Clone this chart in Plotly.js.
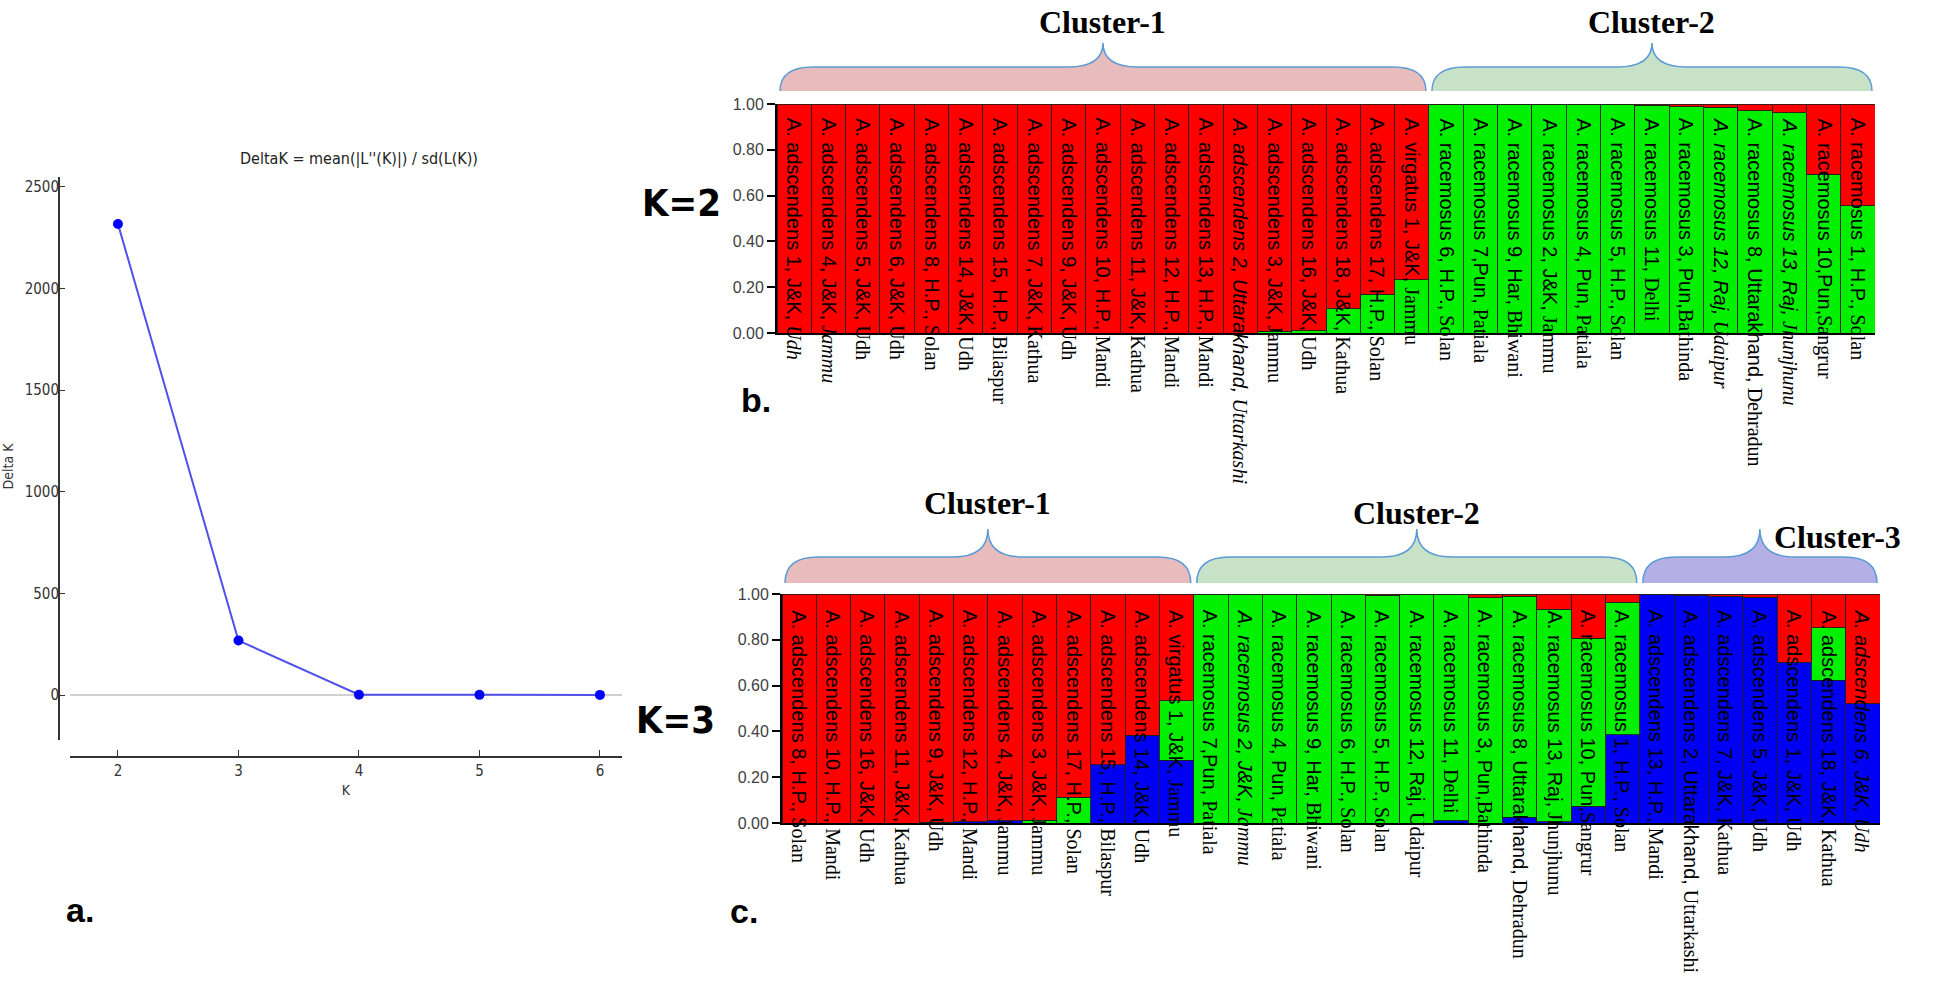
<!DOCTYPE html>
<html><head><meta charset="utf-8">
<script src="https://cdn.plot.ly/plotly-3.0.1.min.js"></script>
<style>html,body{margin:0;padding:0;background:#fff;}#chart{width:1946px;height:997px;}</style>
</head><body><div id="chart"></div>
<script>
// ---------- Panel a: Evanno DeltaK ----------
const kValues = [2, 3, 4, 5, 6];
const deltaK = [2318, 268, 1.5, 0.8, 0.6];
const deltaKTicks = [0, 500, 1000, 1500, 2000, 2500];

// ---------- Panel b: K=2 ----------
const labelsB = [
  'A. adscendens 1, J&K, Udh', 'A. adscendens 4, J&K, Jammu', 'A. adscendens 5, J&K, Udh',
  'A. adscendens 6, J&K, Udh', 'A. adscendens 8, H.P., Solan', 'A. adscendens 14, J&K, Udh',
  'A. adscendens 15, H.P., Bilaspur', 'A. adscendens 7, J&K, Kathua', 'A. adscendens 9, J&K, Udh',
  'A. adscendens 10, H.P., Mandi', 'A. adscendens 11, J&K, Kathua', 'A. adscendens 12, H.P., Mandi',
  'A. adscendens 13, H.P., Mandi', 'A. adscendens 2, Uttarakhand, Uttarkashi', 'A. adscendens 3, J&K, Jammu',
  'A. adscendens 16, J&K, Udh', 'A. adscendens 18, J&K, Kathua', 'A. adscendens 17, H.P., Solan',
  'A. virgatus 1, J&K, Jammu', 'A. racemosus 6, H.P., Solan', 'A. racemosus 7,Pun, Patiala',
  'A. racemosus 9, Har, Bhiwani', 'A. racemosus 2, J&K, Jammu', 'A. racemosus 4, Pun, Patiala',
  'A. racemosus 5, H.P., Solan', 'A. racemosus 11, Delhi', 'A. racemosus 3, Pun,Bathinda',
  'A. racemosus 12, Raj, Udaipur', 'A. racemosus 8, Uttarakhand, Dehradun', 'A. racemosus 13, Raj, Jhunjhunu',
  'A. racemosus 10,Pun,Sangrur', 'A. racemosus 1, H.P., Solan'
];
const greenB = [0, 0, 0, 0, 0, 0, 0, 0, 0, 0, 0, 0, 0, 0, 0.008, 0.01, 0.106, 0.17, 0.233,
  1, 1, 1, 1, 1, 1, 0.995, 0.988, 0.985, 0.97, 0.962, 0.694, 0.555];
const redB = [1, 1, 1, 1, 1, 1, 1, 1, 1, 1, 1, 1, 1, 1, 0.992, 0.99, 0.894, 0.83, 0.767,
  0, 0, 0, 0, 0, 0, 0.005, 0.012, 0.015, 0.03, 0.038, 0.306, 0.445];
const clusterNamesB = ['Cluster-1', 'Cluster-2'];
const clusterSizesB = [19, 13];

// ---------- Panel c: K=3 ----------
const labelsC = [
  'A. adscendens 8, H.P., Solan', 'A. adscendens 10, H.P., Mandi', 'A. adscendens 16, J&K, Udh',
  'A. adscendens 11, J&K, Kathua', 'A. adscendens 9, J&K, Udh', 'A. adscendens 12, H.P., Mandi',
  'A. adscendens 4, J&K, Jammu', 'A. adscendens 3, J&K, Jammu', 'A. adscendens 17, H.P., Solan',
  'A. adscendens 15, H.P., Bilaspur', 'A. adscendens 14, J&K, Udh', 'A. virgatus 1, J&K, Jammu',
  'A. racemosus 7,Pun, Patiala', 'A. racemosus 2, J&K, Jammu', 'A. racemosus 4, Pun, Patiala',
  'A. racemosus 9, Har, Bhiwani', 'A. racemosus 6, H.P., Solan', 'A. racemosus 5, H.P., Solan',
  'A. racemosus 12, Raj, Udaipur', 'A. racemosus 11, Delhi', 'A. racemosus 3, Pun,Bathinda',
  'A. racemosus 8, Uttarakhand, Dehradun', 'A. racemosus 13, Raj, Jhunjhunu', 'A. racemosus 10, Pun,Sangrur',
  'A. racemosus 1, H.P., Solan', 'A. adscendens 13, H.P., Mandi', 'A. adscendens 2, Uttarakhand, Uttarkashi',
  'A. adscendens 7, J&K, Kathua', 'A. adscendens 5, J&K, Udh', 'A. adscendens 1, J&K, Udh',
  'A. adscendens 18, J&K, Kathua', 'A. adscendens 6, J&K, Udh'
];
const blueC = [0, 0, 0, 0, 0.003, 0.005, 0.01, 0, 0, 0.254, 0.384, 0.275,
  0, 0, 0, 0, 0, 0, 0, 0.01, 0, 0.025, 0.005, 0.073, 0.386,
  1, 0.995, 0.99, 0.985, 0.702, 0.623, 0.521];
const greenC = [0, 0, 0, 0, 0, 0, 0, 0.012, 0.113, 0, 0, 0.258,
  1, 1, 1, 1, 1, 0.995, 1, 0.99, 0.983, 0.965, 0.929, 0.733, 0.578,
  0, 0, 0, 0, 0, 0.229, 0];
const redC = [1, 1, 1, 1, 0.997, 0.995, 0.99, 0.988, 0.887, 0.746, 0.616, 0.467,
  0, 0, 0, 0, 0, 0.005, 0, 0, 0.017, 0.01, 0.066, 0.194, 0.036,
  0, 0.005, 0.01, 0.015, 0.298, 0.148, 0.479];
const clusterNamesC = ['Cluster-1', 'Cluster-2', 'Cluster-3'];
const clusterSizesC = [12, 13, 7];

const qTicks = [0, 0.2, 0.4, 0.6, 0.8, 1.0];
const italicIdxB = [13, 27, 29];
const italicPlaceIdxB = [0, 1];
const italicIdxC = [13, 31];

// ---------- geometry helpers (pixels -> paper) ----------
const W = 1946, H = 997;
const PX = x => x / W;
const PY = y => 1 - y / H;
const A = {x0: 70, x1: 622, y0: 177, y1: 756};
const B = {x0: 777, x1: 1875, y0: 104, y1: 333};
const C = {x0: 782, x1: 1880, y0: 594, y1: 823};

const RED = 'rgb(255,0,0)', GREEN = 'rgb(0,240,0)', BLUE = 'rgb(0,0,245)';
const SANS = 'Liberation Sans, Arial, sans-serif';
const SERIF = 'Liberation Serif, Times New Roman, serif';
const barLine = {color: 'rgba(30,30,30,0.85)', width: 1};

function idx(arr) { return arr.map((_, i) => i); }

const traces = [
  {type: 'scatter', mode: 'lines+markers', x: kValues, y: deltaK, xaxis: 'x', yaxis: 'y',
   line: {color: 'rgb(80,80,235)', width: 2}, marker: {color: 'rgb(0,0,255)', size: 10},
   showlegend: false, hoverinfo: 'skip'},
  {type: 'bar', x: idx(labelsB), y: greenB, xaxis: 'x2', yaxis: 'y2', marker: {color: GREEN, line: barLine}, showlegend: false},
  {type: 'bar', x: idx(labelsB), y: redB, xaxis: 'x2', yaxis: 'y2', marker: {color: RED, line: barLine}, showlegend: false},
  {type: 'bar', x: idx(labelsC), y: blueC, xaxis: 'x3', yaxis: 'y3', marker: {color: BLUE, line: barLine}, showlegend: false},
  {type: 'bar', x: idx(labelsC), y: greenC, xaxis: 'x3', yaxis: 'y3', marker: {color: GREEN, line: barLine}, showlegend: false},
  {type: 'bar', x: idx(labelsC), y: redC, xaxis: 'x3', yaxis: 'y3', marker: {color: RED, line: barLine}, showlegend: false}
];

function labelText(label, italicAll, italicPlace) {
  const k = label.lastIndexOf(',');
  const head = label.slice(0, k + 1);
  let tail = label.slice(k + 1);
  if (italicPlace) tail = '<i>' + tail + '</i>';
  let t = head + '<span style="font-family:' + SERIF + '">' + tail + '</span>';
  if (italicAll) t = '<i>' + t + '</i>';
  return t;
}

const annotations = [];
labelsB.forEach((lab, i) => {
  annotations.push({xref: 'x2', yref: 'y2', x: i, y: 1, yshift: -12, xanchor: 'center', yanchor: 'top',
    textangle: 90, showarrow: false,
    text: labelText(lab, italicIdxB.includes(i), italicPlaceIdxB.includes(i)),
    font: {family: SANS, size: 20, color: '#000'}});
});
labelsC.forEach((lab, i) => {
  annotations.push({xref: 'x3', yref: 'y3', x: i, y: 1, yshift: -14, xanchor: 'center', yanchor: 'top',
    textangle: 90, showarrow: false,
    text: labelText(lab, italicIdxC.includes(i), false),
    font: {family: SANS, size: 20, color: '#000'}});
});

function txt(text, x, y, size, family, extra) {
  return Object.assign({xref: 'paper', yref: 'paper', x: PX(x), y: PY(y), xanchor: 'center', yanchor: 'middle',
    showarrow: false, text: text, font: {family: family, size: size, color: '#000'}}, extra || {});
}
const NARROW = 'Liberation Sans Narrow, DejaVu Sans Condensed, Arial Narrow, sans-serif';
annotations.push(txt('<b>K=2</b>', 681, 203, 38, NARROW));
annotations.push(txt('<b>K=3</b>', 675, 720, 38, NARROW));
annotations.push(txt('<b>a.</b>', 80, 910, 34, SANS));
annotations.push(txt('<b>b.</b>', 756, 400, 34, SANS));
annotations.push(txt('<b>c.</b>', 744, 911, 34, SANS));

// ---------- cluster braces ----------
const shapes = [];
function bracePath(L, R, yb, ym, yt, close) {
  const e = Math.min(33, (R - L) / 6), p = 35, P = (L + R) / 2;
  const f = (x, y) => PX(x).toFixed(5) + ',' + PY(y).toFixed(5);
  let d = 'M' + f(L, yb) + ' Q' + f(L, ym) + ' ' + f(L + e, ym) +
    ' L' + f(P - p, ym) + ' Q' + f(P, ym) + ' ' + f(P, yt) +
    ' Q' + f(P, ym) + ' ' + f(P + p, ym) +
    ' L' + f(R - e, ym) + ' Q' + f(R, ym) + ' ' + f(R, yb);
  if (close) d += ' Z';
  return d;
}
function addBraces(panel, names, sizes, fills, yb, ym, yt, labelPos) {
  const n = sizes.reduce((a, b) => a + b, 0);
  const bw = (panel.x1 - panel.x0) / n;
  let start = 0;
  names.forEach((name, k) => {
    const L = panel.x0 + start * bw + 3, R = panel.x0 + (start + sizes[k]) * bw - 3;
    shapes.push({type: 'path', xref: 'paper', yref: 'paper', path: bracePath(L, R, yb, ym, yt, true),
      fillcolor: fills[k], line: {width: 0}, layer: 'above'});
    shapes.push({type: 'path', xref: 'paper', yref: 'paper', path: bracePath(L, R, yb, ym, yt, false),
      fillcolor: 'rgba(0,0,0,0)', line: {color: 'rgb(91,155,213)', width: 1.5}, layer: 'above'});
    annotations.push(txt('<b>' + name + '</b>', (L + R) / 2 + labelPos[k][0], labelPos[k][1], 32, SERIF));
    start += sizes[k];
  });
}
const PINK = 'rgb(232,188,188)', LGREEN = 'rgb(200,226,200)', LPURPLE = 'rgb(180,176,230)';
addBraces(B, clusterNamesB, clusterSizesB, [PINK, LGREEN], 91, 67, 43, [[0, 22], [0, 22]]);
addBraces(C, clusterNamesC, clusterSizesC, [PINK, LGREEN, LPURPLE], 583, 557, 529, [[0, 503], [0, 513], [78, 537]]);

// y-axis line of panel a (offset spine)
shapes.push({type: 'line', xref: 'paper', yref: 'y', x0: PX(59), x1: PX(59), y0: -221, y1: 2549,
  line: {color: '#333', width: 2}});

const qAxis = (dom, anchor) => ({
  domain: [PY(dom.y1), PY(dom.y0)], anchor: anchor, range: [0, 1], tickvals: qTicks,
  ticktext: qTicks.map(v => v.toFixed(2)), ticks: 'outside', ticklen: 8, tickwidth: 2, tickcolor: '#000',
  showline: true, linecolor: '#000', linewidth: 2, showgrid: false, zeroline: false,
  tickfont: {family: SANS, size: 16, color: '#404040'}, fixedrange: true
});
const catAxis = (dom, anchor, n) => ({
  domain: [PX(dom.x0), PX(dom.x1)], anchor: anchor, range: [-0.5, n - 0.5], showticklabels: false,
  ticks: '', showgrid: false, zeroline: false, showline: true, linecolor: '#000', linewidth: 2, fixedrange: true
});

const DJC = 'DejaVu Sans Condensed, DejaVu Sans';
const layout = {
  width: W, height: H, margin: {l: 0, r: 0, t: 0, b: 0}, paper_bgcolor: '#fff', plot_bgcolor: '#fff',
  barmode: 'stack', bargap: 0, showlegend: false, font: {family: SANS},
  title: {text: "DeltaK = mean(|L''(K)|) / sd(L(K))", x: PX(359), y: PY(158), xref: 'paper', yref: 'paper',
    xanchor: 'center', yanchor: 'middle', font: {family: DJC, size: 16, color: '#222'}},
  xaxis: {domain: [PX(A.x0), PX(A.x1)], anchor: 'y', range: [1.602, 6.183], tickvals: kValues,
    ticks: 'inside', ticklen: 6, tickcolor: '#333', showline: true, linecolor: '#333', linewidth: 2,
    showgrid: false, zeroline: false, tickfont: {family: DJC, size: 15, color: '#333'},
    title: {text: 'K', standoff: 6, font: {family: DJC, size: 14, color: '#333'}}},
  yaxis: {domain: [PY(A.y1), PY(A.y0)], anchor: 'free', position: PX(59), range: [-300, 2549],
    tickvals: deltaKTicks, ticks: 'inside', ticklen: 5, tickcolor: '#333', showline: false, showgrid: false,
    zeroline: true, zerolinecolor: 'rgb(208,208,208)', zerolinewidth: 1.5,
    tickfont: {family: DJC, size: 15, color: '#333'},
    title: {text: 'Delta K', standoff: 6, font: {family: DJC, size: 14, color: '#333'}}},
  xaxis2: catAxis(B, 'y2', labelsB.length),
  yaxis2: qAxis(B, 'x2'),
  xaxis3: catAxis(C, 'y3', labelsC.length),
  yaxis3: qAxis(C, 'x3'),
  annotations: annotations,
  shapes: shapes
};

Plotly.newPlot('chart', traces, layout, {displayModeBar: false, staticPlot: true});
</script>
</body></html>
